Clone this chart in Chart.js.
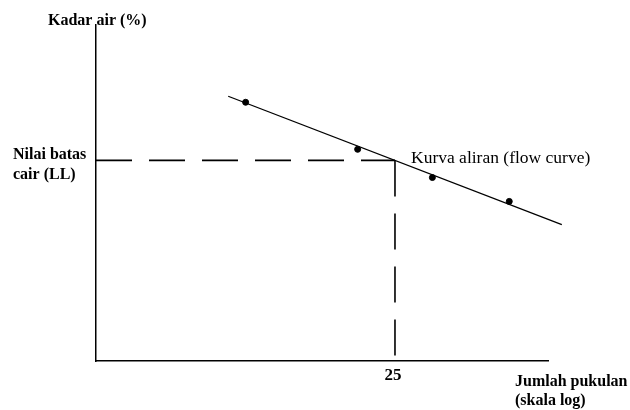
<!DOCTYPE html>
<html>
<head>
<meta charset="utf-8">
<script src="https://cdn.jsdelivr.net/npm/chart.js@4.4.1/dist/chart.umd.min.js"></script>
<style>
  html, body { margin: 0; padding: 0; background: #fff; }
  #wrap { width: 630px; height: 410px; }
</style>
</head>
<body>
<div id="wrap"><canvas id="flowChart"></canvas></div>
<script>
// jumlah pukulan (log scale) vs kadar air (%) - schematic values
const blowCounts = [11.3, 20.5, 30.5, 45.9];
const waterContent = [77, 63, 54.6, 47.5];

const curveBlows = [10.3, 60.7];
const curveWater = [78.8, 40.6];

const llBlows = 25;
const llWater = 59.7;

const xRange = [5.1, 56.4];
const yRange = [0, 100];

const xTickLabels = ['25'];

const serif = '"Liberation Serif", "Times New Roman", serif';

const ctx = document.getElementById('flowChart');

function toPoints(xs, ys) {
    return xs.map((x, i) => ({x: x, y: ys[i]}));
}

// text labels placed around the axes
const labelPlugin = {
    id: 'labels',
    afterDraw(chart) {
        const c = chart.ctx;
        const xs = chart.scales.x;
        c.save();
        c.fillStyle = '#000';
        c.textBaseline = 'alphabetic';

        c.font = 'bold 17px ' + serif;
        c.textAlign = 'center';
        c.fillText(xTickLabels[0], xs.getPixelForValue(llBlows) - 2, 380);

        c.font = 'bold 16px ' + serif;
        c.textAlign = 'left';
        c.fillText('Kadar air (%)', 48, 25);
        c.fillText('Nilai batas', 13, 159);
        c.fillText('cair (LL)', 13, 179);
        c.fillText('Jumlah pukulan', 515, 386);
        c.fillText('(skala log)', 515, 405);

        c.font = '17.5px ' + serif;
        c.fillText('Kurva aliran (flow curve)', 411, 163);
        c.restore();
    }
};

let flowChart = new Chart(ctx, {
    type: 'scatter',
    data: {
        datasets: [
            {
                label: 'Kurva aliran',
                type: 'line',
                data: toPoints(curveBlows, curveWater),
                borderColor: '#000',
                borderWidth: 1.3,
                pointRadius: 0,
                clip: false
            },
            {
                label: 'LL horizontal',
                type: 'line',
                data: [{x: xRange[0], y: llWater}, {x: llBlows, y: llWater}],
                borderColor: '#000',
                borderWidth: 1.6,
                borderDash: [36, 17],
                pointRadius: 0
            },
            {
                label: 'LL vertical',
                type: 'line',
                data: [{x: llBlows, y: llWater}, {x: llBlows, y: yRange[0]}],
                borderColor: '#000',
                borderWidth: 1.6,
                borderDash: [36, 17],
                pointRadius: 0
            },
            {
                label: 'Data',
                data: toPoints(blowCounts, waterContent),
                backgroundColor: '#000',
                borderColor: '#000',
                pointRadius: 3
            }
        ]
    },
    options: {
        responsive: true,
        maintainAspectRatio: false,
        animation: false,
        layout: {
            padding: {left: 88, right: 82, top: 25, bottom: 41}
        },
        plugins: {
            legend: {display: false},
            tooltip: {enabled: false}
        },
        scales: {
            x: {
                type: 'logarithmic',
                min: xRange[0],
                max: xRange[1],
                grid: {display: false},
                ticks: {display: false},
                border: {display: true, color: '#000', width: 1.5}
            },
            y: {
                min: yRange[0],
                max: yRange[1],
                grid: {display: false},
                ticks: {display: false},
                border: {display: true, color: '#000', width: 1.5}
            }
        }
    },
    plugins: [labelPlugin]
});
</script>
</body>
</html>
